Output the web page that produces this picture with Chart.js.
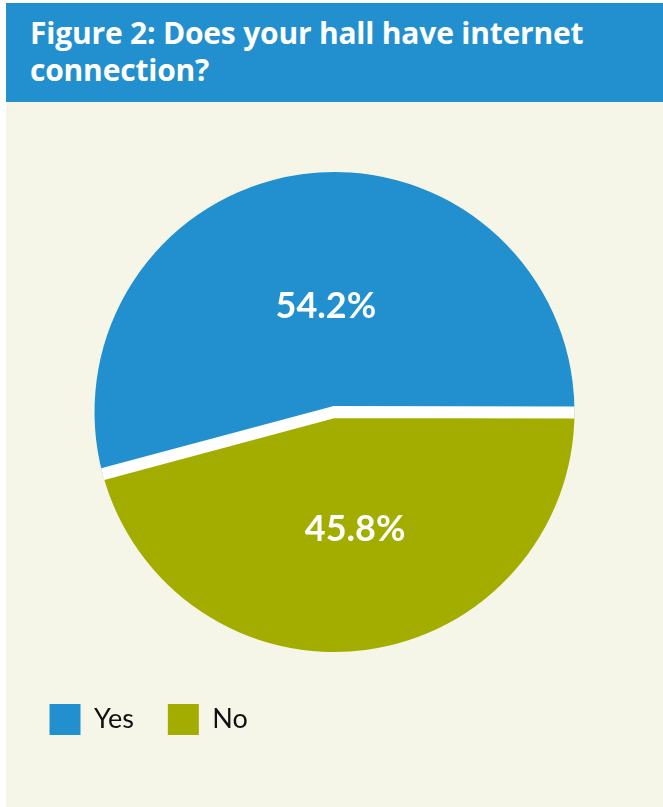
<!DOCTYPE html>
<html>
<head>
<meta charset="utf-8">
<script src="https://cdn.jsdelivr.net/npm/chart.js@4/dist/chart.umd.min.js"></script>
<style>
  html, body { margin: 0; padding: 0; background: #ffffff; }
  .panel {
    position: absolute; left: 6px; top: 3px;
    width: 657px; height: 804px;
    background: #f5f6e8;
  }
  .panel h1 {
    margin: 0; box-sizing: border-box;
    height: 99px; padding: 11px 0 0 24px;
    background: #228fcf; color: #ffffff;
    font: bold 30px/37px "Open Sans", sans-serif;
    letter-spacing: -0.2px;
  }
  .chart-box { position: relative; width: 657px; height: 705px; }
</style>
</head>
<body>
<div class="panel">
  <h1>Figure 2: Does your hall have internet<br>connection?</h1>
  <div class="chart-box"><canvas id="pieChart"></canvas></div>
</div>
<script>
const categories = ['Yes', 'No'];
const shares = [54.2, 45.8];
const sliceColors = ['#228fcf', '#a3ad00'];

// white dividers between slices, drawn as one stroke through the centre
const sliceDividers = {
    id: 'sliceDividers',
    afterDatasetsDraw(chart) {
        const arcs = chart.getDatasetMeta(0).data;
        const ctx = chart.ctx;
        const first = arcs[0];
        const r = first.outerRadius;
        ctx.save();
        ctx.strokeStyle = '#ffffff';
        ctx.lineWidth = 12;
        ctx.lineJoin = 'miter';
        ctx.lineCap = 'butt';
        ctx.beginPath();
        ctx.moveTo(first.x + Math.cos(arcs[1].startAngle) * r, first.y + Math.sin(arcs[1].startAngle) * r);
        ctx.lineTo(first.x, first.y);
        ctx.lineTo(first.x + Math.cos(first.startAngle) * r, first.y + Math.sin(first.startAngle) * r);
        ctx.stroke();
        ctx.restore();
    }
};

// percentage labels inside each slice
const sliceLabels = {
    id: 'sliceLabels',
    afterDatasetsDraw(chart) {
        const ctx = chart.ctx;
        const values = chart.data.datasets[0].data;
        ctx.save();
        ctx.fillStyle = '#ffffff';
        ctx.font = 'bold 36px Lato, sans-serif';
        ctx.textAlign = 'center';
        ctx.textBaseline = 'middle';
        chart.getDatasetMeta(0).data.forEach((arc, i) => {
            const mid = (arc.startAngle + arc.endAngle) / 2;
            const d = arc.outerRadius * 0.47;
            ctx.fillText(values[i].toFixed(1) + '%', arc.x + Math.cos(mid) * d + 6, arc.y + Math.sin(mid) * d + 6);
        });
        ctx.restore();
    }
};

new Chart(document.getElementById('pieChart'), {
    type: 'pie',
    data: {
        labels: categories,
        datasets: [{
            data: shares,
            backgroundColor: sliceColors,
            borderWidth: 0
        }]
    },
    options: {
        responsive: true,
        maintainAspectRatio: false,
        animation: false,
        events: [],
        rotation: 255,
        radius: 240,
        layout: {
            padding: { top: 52, left: 9.5, right: 9.5, bottom: 62 }
        },
        plugins: {
            tooltip: { enabled: false },
            legend: {
                position: 'bottom',
                align: 'start',
                labels: {
                    boxWidth: 31,
                    boxHeight: 31,
                    padding: 34,
                    color: '#111111',
                    font: { family: 'Lato, sans-serif', size: 27 }
                }
            }
        }
    },
    plugins: [sliceDividers, sliceLabels]
});
</script>
</body>
</html>
